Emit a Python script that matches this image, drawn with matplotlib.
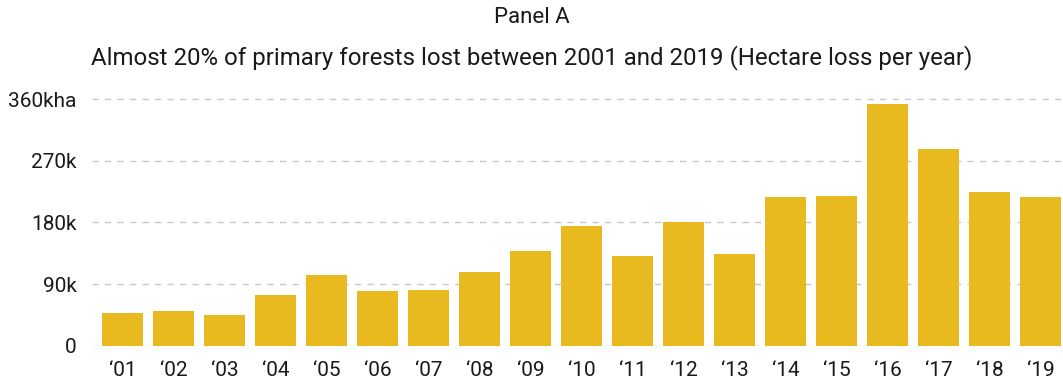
import matplotlib
matplotlib.use("Agg")
import matplotlib.pyplot as plt
from matplotlib.ticker import FixedLocator

plt.rcParams['font.family'] = ['Roboto', 'DejaVu Sans']

# hectares of primary forest lost each year
years = ['\u201801', '\u201802', '\u201803', '\u201804', '\u201805', '\u201806', '\u201807',
         '\u201808', '\u201809', '\u201810', '\u201811', '\u201812', '\u201813', '\u201814',
         '\u201815', '\u201816', '\u201817', '\u201818', '\u201819']
loss_ha = [47500, 50500, 44800, 74000, 103000, 80000, 81000,
           107500, 138000, 175000, 131000, 180000, 134000, 217000,
           218500, 353000, 287000, 224000, 217000]
y_ticks = [0, 90000, 180000, 270000, 360000]
y_labels = ['0', '90k', '180k', '270k', '360kha']

bar_color = '#E9B920'

fig = plt.figure(figsize=(10.63, 3.86), dpi=100)
ax = fig.add_axes([0.0866, 0.1044, 0.9134, 0.6497])

x = list(range(len(years)))
ax.bar(x, loss_ha, width=0.8, color=bar_color, zorder=2)

ax.set_xlim(-0.6, 18.44)
ax.set_ylim(0, 366000)
ax.yaxis.set_major_locator(FixedLocator(y_ticks))
ax.set_yticklabels(y_labels)
ax.set_xticks(x)
ax.set_xticklabels(years)

ax.grid(axis='y', linestyle=(0, (4.5, 4.5)), color='#c8c8c8', linewidth=1, zorder=0)
for s in ax.spines.values():
    s.set_visible(False)
ax.tick_params(axis='both', length=0, labelsize=15, colors='#1a1a1a')
ax.tick_params(axis='y', pad=11)
ax.tick_params(axis='x', pad=11)

fig.text(0.5, 0.955, 'Panel A', ha='center', va='center', fontsize=16, color='#1a1a1a')
fig.text(0.5, 0.85, 'Almost 20% of primary forests lost between 2001 and 2019 (Hectare loss per year)',
         ha='center', va='center', fontsize=17.25, color='#1a1a1a')

fig.savefig('out.png', dpi=100)
